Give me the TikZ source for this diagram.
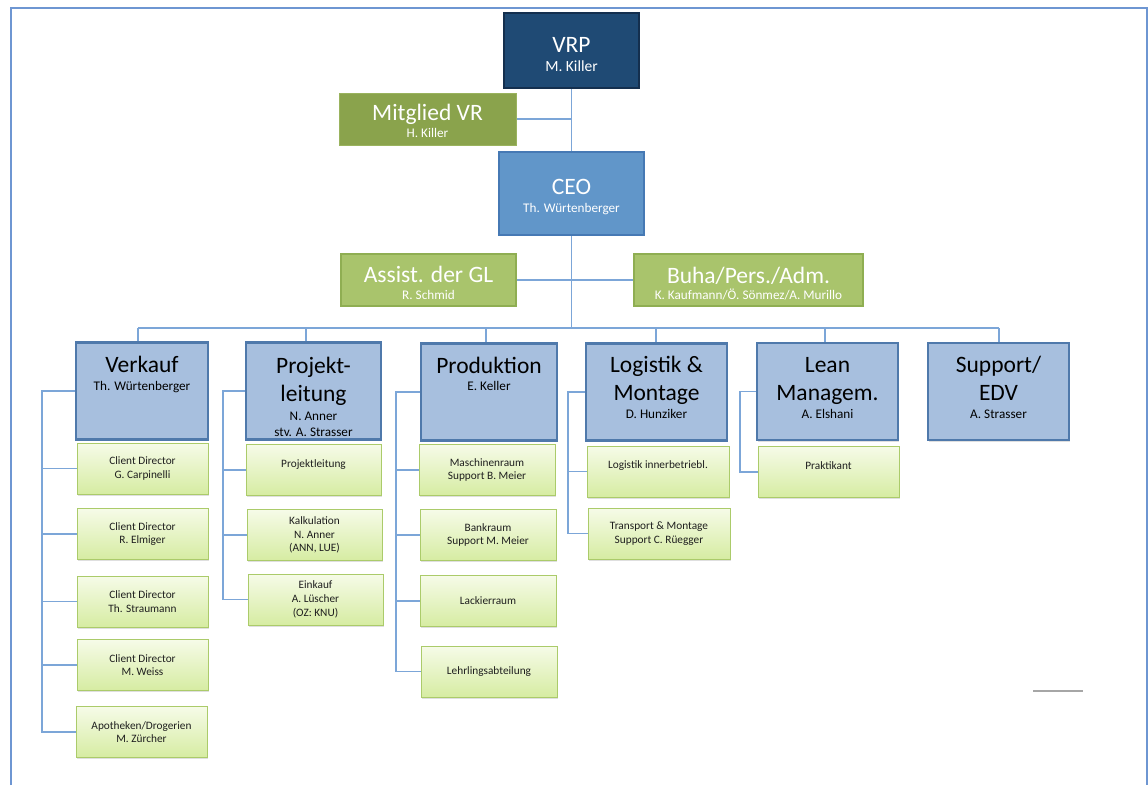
\documentclass[tikz,border=0pt]{standalone}
\usepackage{fontspec}
\setmainfont{Carlito}
\usetikzlibrary{shadows,backgrounds}
\definecolor{framec}{HTML}{6E96D2}
\definecolor{connc}{HTML}{7CA6D8}
\definecolor{vrpfill}{HTML}{1F4A74}
\definecolor{vrpdraw}{HTML}{142F4E}
\definecolor{mitfill}{HTML}{8AA34C}
\definecolor{mitdraw}{HTML}{9AB35E}
\definecolor{ceofill}{HTML}{6196C9}
\definecolor{ceodraw}{HTML}{4679B4}
\definecolor{glfill}{HTML}{A9C46C}
\definecolor{gldraw}{HTML}{8FAE52}
\definecolor{depfill}{HTML}{A7BFDE}
\definecolor{depdraw}{HTML}{4F79AB}
\definecolor{subtop}{HTML}{F6FBE8}
\definecolor{subbot}{HTML}{D6ECA2}
\definecolor{subdraw}{HTML}{ABCB6A}
\begin{document}
\begin{tikzpicture}[x=1pt,y=-1pt,
  box/.style={inner sep=0pt, outer sep=0pt},
  vrpbox/.style={box, draw=vrpdraw, fill=vrpfill, line width=1.6pt},
  mitbox/.style={box, draw=mitdraw, fill=mitfill, line width=1pt},
  ceobox/.style={box, draw=ceodraw, fill=ceofill, line width=2pt},
  glbox/.style={box, draw=gldraw, fill=glfill, line width=1.5pt, minimum height=52},
  depbox/.style={box, draw=depdraw, fill=depfill, line width=2.2pt, minimum height=97,
     drop shadow={opacity=0.25, shadow xshift=1pt, shadow yshift=-1.5pt}},
  subbox/.style={box, draw=subdraw, top color=subtop, bottom color=subbot, line width=1pt,
     minimum height=51, align=center, text=black!88,
     font=\fontsize{11.3}{13.7}\selectfont,
     drop shadow={opacity=0.25, shadow xshift=1pt, shadow yshift=-1.5pt}},
  ttl/.style={anchor=base, align=center, inner sep=0pt, font=\fontsize{23.5}{28}\selectfont},
  nm/.style={anchor=base, align=center, inner sep=0pt, font=\fontsize{13.2}{16.3}\selectfont},
  conn/.style={draw=connc, line width=1.3pt},
  frameline/.style={draw=framec, line width=1.6pt}
]
\useasboundingbox (0,0) rectangle (1148,785);

% frame
\draw[frameline] (11,785) -- (11,8) -- (1147,8) -- (1147,785);

% top level
\node[vrpbox, minimum width=135, minimum height=75] (vrp) at (571.5,50.5) {};
\node[ttl, text=white] (vrpt) at (571.5,52) {VRP};
\node[nm, text=white, font=\fontsize{15.5}{18}\selectfont] (vrpn) at (571.5,71.7) {M. Killer};

\node[mitbox, minimum width=177, minimum height=52] (mit) at (427.5,119) {};
\node[ttl, text=white] (mitt) at (427.5,120.7) {Mitglied VR};
\node[nm, text=white] (mitn) at (427.5,137.7) {H. Killer};

\node[ceobox, minimum width=145, minimum height=83] (ceo) at (571.5,193.5) {};
\node[ttl, text=white] (ceot) at (571.5,194) {CEO};
\node[nm, text=white] (ceon) at (571.5,212) {Th. Würtenberger};

\node[glbox, minimum width=175] (assist) at (428.5,280) {};
\node[ttl, text=white] (assistt) at (428.5,282) {Assist. der GL};
\node[nm, text=white] (assistn) at (428.5,299) {R. Schmid};

\node[glbox, minimum width=229] (buha) at (748.5,280) {};
\node[ttl, text=white] (buhat) at (748.5,283) {Buha/Pers./Adm.};
\node[nm, text=white] (buhan) at (748.5,299) {K. Kaufmann/Ö. Sönmez/A. Murillo};

% departments
\node[depbox, minimum width=132] (verkauf) at (142,391) {};
\node[ttl] (verkauft) at (142,372) {Verkauf};
\node[nm] (verkaufn) at (142,390) {Th. Würtenberger};

\node[depbox, minimum width=135] (projekt) at (313.5,391) {};
\node[ttl] (projektt) at (313.5,401) {Projekt-\\leitung};
\node[nm] (projektn) at (313.5,436.7) {N. Anner\\stv. A. Strasser};

\node[depbox, minimum width=136] (prod) at (489,392) {};
\node[ttl] (prodt) at (489,373) {Produktion};
\node[nm] (prodn) at (489,390.7) {E. Keller};

\node[depbox, minimum width=141] (logi) at (656.5,392) {};
\node[ttl] (logit) at (656.5,400) {Logistik \&\\Montage};
\node[nm] (login) at (656.5,418.7) {D. Hunziker};

\node[depbox, minimum width=141] (lean) at (827.5,391.5) {};
\node[ttl] (leant) at (827.5,400) {Lean\\Managem.};
\node[nm] (leann) at (827.5,418.5) {A. Elshani};

\node[depbox, minimum width=141] (supp) at (998.5,391.5) {};
\node[ttl] (suppt) at (998.5,400) {Support/\\EDV};
\node[nm] (suppn) at (998.5,418.5) {A. Strasser};

% sub units: Verkauf
\node[subbox, minimum width=131] (v1) at (142.5,468.5) {Client Director\\G. Carpinelli};
\node[subbox, minimum width=131] (v2) at (142.5,534) {Client Director\\R. Elmiger};
\node[subbox, minimum width=131] (v3) at (142.5,601.5) {Client Director\\Th. Straumann};
\node[subbox, minimum width=131] (v4) at (142.5,665) {Client Director\\M. Weiss};
\node[subbox, minimum width=131] (v5) at (141.5,732) {Apotheken/Drogerien\\M. Zürcher};

% Projektleitung
\node[subbox, minimum width=135] (p1) at (313.5,470) {Projektleitung\\\mbox{}};
\node[subbox, minimum width=135] (p2) at (314.5,535) {Kalkulation\\N. Anner\\(ANN, LUE)};
\node[subbox, minimum width=135] (p3) at (315.5,599.5) {Einkauf\\A. Lüscher\\(OZ: KNU)};

% Produktion
\node[subbox, minimum width=136] (r1) at (487,470) {Maschinenraum\\Support B. Meier};
\node[subbox, minimum width=136] (r2) at (488,535) {Bankraum\\Support M. Meier};
\node[subbox, minimum width=136] (r3) at (488,601) {Lackierraum};
\node[subbox, minimum width=136] (r4) at (489,671.5) {Lehrlingsabteilung};

% Logistik
\node[subbox, minimum width=142] (l1) at (658,471.5) {Logistik innerbetriebl.\\\mbox{}};
\node[subbox, minimum width=142] (l2) at (659,533.5) {Transport \& Montage\\Support C. Rüegger};

% Lean
\node[subbox, minimum width=141] (m1) at (828.5,472) {Praktikant\\\mbox{}};

% stray line
\draw[line width=1.3pt, black!35] (1033,691) -- (1083,691);

\begin{scope}[on background layer]
\fill[white] (0,0) rectangle (1148,785);
% top connectors
\draw[conn] (vrp.south) -- (ceo.north);
\draw[conn] (mit.east) -- (mit.east -| vrp.south);
\draw[conn] (assist.east) -- (buha.west);
\coordinate (busL) at (138,328);
\coordinate (busR) at (999,328);
\coordinate (d2) at (306,328);
\coordinate (d3) at (486,328);
\coordinate (d4) at (656,328);
\coordinate (d5) at (825,328);
\draw[conn] (ceo.south) -- (ceo.south |- busL);
\draw[conn] (busL) -- (busR);
\draw[conn] (busL) -- (busL |- verkauf.north);
\draw[conn] (d2) -- (d2 |- projekt.north);
\draw[conn] (d3) -- (d3 |- prod.north);
\draw[conn] (d4) -- (d4 |- logi.north);
\draw[conn] (d5) -- (d5 |- lean.north);
\draw[conn] (busR) -- (busR |- supp.north);
% Verkauf tree
\coordinate (vk) at (42,0);
\draw[conn] (verkauf.west) -- (verkauf.west -| vk) -- (v5.west -| vk) -- (v5.west);
\foreach \n in {v1,v2,v3,v4} \draw[conn] (\n.west -| vk) -- (\n.west);
% Projekt tree
\coordinate (pk) at (223,0);
\draw[conn] (projekt.west) -- (projekt.west -| pk) -- (p3.west -| pk) -- (p3.west);
\foreach \n in {p1,p2} \draw[conn] (\n.west -| pk) -- (\n.west);
% Produktion tree
\coordinate (rk) at (396,0);
\draw[conn] (prod.west) -- (prod.west -| rk) -- (r4.west -| rk) -- (r4.west);
\foreach \n in {r1,r2,r3} \draw[conn] (\n.west -| rk) -- (\n.west);
% Logistik tree
\coordinate (lk) at (568,0);
\draw[conn] (logi.west) -- (logi.west -| lk) -- (l2.west -| lk) -- (l2.west);
\draw[conn] (l1.west -| lk) -- (l1.west);
% Lean tree
\coordinate (mk) at (740,0);
\draw[conn] (lean.west) -- (lean.west -| mk) -- (m1.west -| mk) -- (m1.west);
\end{scope}
\end{tikzpicture}
\end{document}
